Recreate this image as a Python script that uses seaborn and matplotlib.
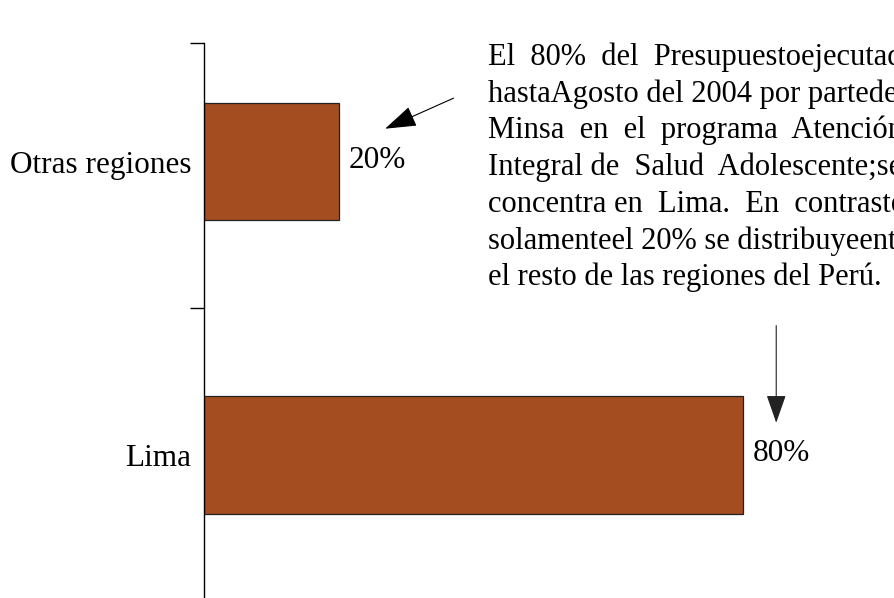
import matplotlib
matplotlib.use("Agg")
import matplotlib.pyplot as plt
import seaborn as sns

# data
regiones = ["Otras regiones", "Lima"]
porcentajes = [20, 80]
etiquetas = ["20%", "80%"]
nota = [
    "El  80%  del  Presupuestoejecutado",
    "hastaAgosto del 2004 por partedel",
    "Minsa  en  el  programa  Atención",
    "Integral de  Salud  Adolescente;se",
    "concentra en  Lima.  En  contraste",
    "solamenteel 20% se distribuyeentre",
    "el resto de las regiones del Perú.",
]

sns.set_style("white")
plt.rcParams["font.family"] = ["Liberation Serif", "DejaVu Serif"]
plt.rcParams["text.color"] = "black"
plt.rcParams["ytick.labelcolor"] = "black"

fig = plt.figure(figsize=(8.95, 5.98), dpi=100)
ax = fig.add_axes([204 / 895, 0, 674 / 895, 1 - 43 / 598])

sns.barplot(x=porcentajes, y=regiones, orient="h", color="#A44D21",
            width=0.4, edgecolor="#222222", linewidth=0.9, saturation=1, ax=ax)

ax.set_xlim(0, 100)
ax.set_ylim(1.488, -0.404)

for sp in ["top", "right", "bottom"]:
    ax.spines[sp].set_visible(False)
ax.spines["left"].set_color("black")
ax.spines["left"].set_linewidth(1.0)

ax.set_xticks([])
ax.set_yticks([0, 1])
ax.set_yticklabels(regiones, fontsize=22.5, color="black")
ax.tick_params(axis="y", which="major", length=0, pad=9)
ax.set_yticks([-0.404, 0.5], minor=True)
ax.tick_params(axis="y", which="minor", length=10, width=1, color="black", left=True)
ax.set_xlabel("")
ax.set_ylabel("")

for i, (v, t) in enumerate(zip(porcentajes, etiquetas)):
    ax.text(v + 1.4, i - 0.005, t, va="center", ha="left", fontsize=22.5, color="black")

# texto explicativo (linea base cada ~36.7 px), cortado en el borde como el original
for k, linea in enumerate(nota):
    fig.text(488 / 895, 1 - (65 + 36.7 * k) / 598, linea, fontsize=22,
             ha="left", va="baseline", color="black")

# flechas
ax.annotate("", xy=(26.5, -0.108), xytext=(37.4, -0.2198),
            arrowprops=dict(arrowstyle="-|>,head_length=0.9,head_width=0.3",
                            color="black", lw=0.8, mutation_scale=22))
ax.annotate("", xy=(84.9, 0.90), xytext=(84.9, 0.55),
            arrowprops=dict(arrowstyle="-|>,head_length=0.8,head_width=0.28",
                            color="#222222", lw=0.8, mutation_scale=22))

fig.savefig("out.png", dpi=100)
